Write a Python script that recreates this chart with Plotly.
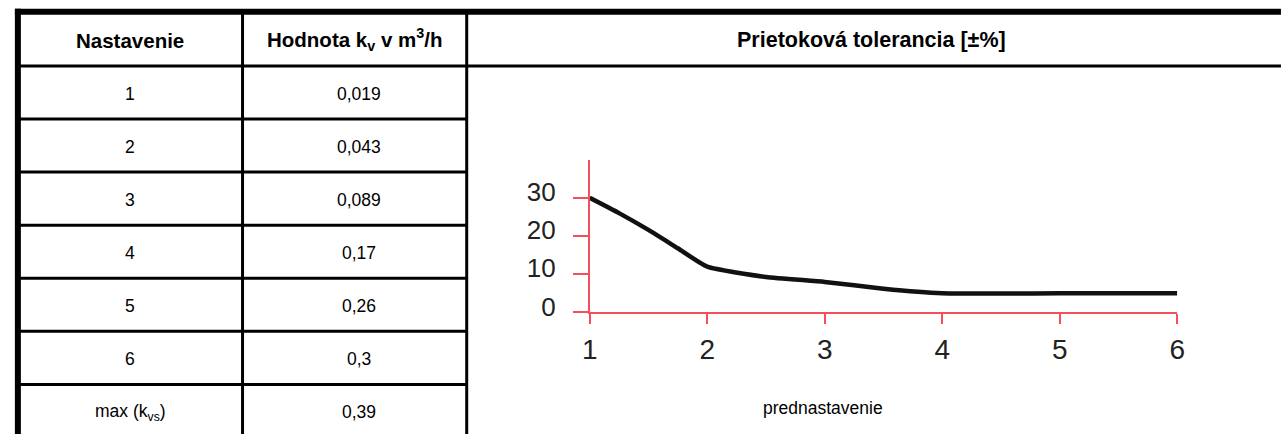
import plotly.graph_objects as go

# ---- data ----
header_cols = ["Nastavenie", "Hodnota k<sub>v</sub> v m<sup>3</sup>/h", "Prietoková tolerancia [±%]"]
settings = ["1", "2", "3", "4", "5", "6", "max (k<sub>vs</sub>)"]
kv_values = ["0,019", "0,043", "0,089", "0,17", "0,26", "0,3", "0,39"]
curve_x = [1, 1.25, 1.5, 1.75, 2, 2.5, 3, 3.5, 4, 5, 6]
curve_y = [30, 26, 21.6, 16.8, 12, 9.3, 8, 6.2, 5, 5, 5]
x_ticks = [1, 2, 3, 4, 5, 6]
y_ticks = [0, 10, 20, 30]
x_title = "prednastavenie"

W, H = 1284, 438
FONT = "Liberation Sans, Arial, Helvetica, sans-serif"
RED = "#f2505c"


def px(x):
    return x / W


def py(y):
    return (H - y) / H


fig = go.Figure()

fig.add_trace(go.Scatter(
    x=curve_x, y=curve_y, mode="lines",
    line=dict(color="#111111", width=4.5, shape="spline", smoothing=0.5),
    hoverinfo="skip", showlegend=False, cliponaxis=False,
))

shapes = []


def line(x0, y0, x1, y1, w):
    shapes.append(dict(type="line", xref="paper", yref="paper",
                       x0=px(x0), y0=py(y0), x1=px(x1), y1=py(y1),
                       line=dict(color="black", width=w)))


# outer border (top + left)
line(7, 12, W + 5, 12, 6)
line(10, 9, 10, H + 5, 6)
# header bottom (full width)
line(10, 67.5, W + 5, 67.5, 3)
# column lines
line(237.5, 12, 237.5, H + 5, 3)
line(464.5, 12, 464.5, H + 5, 3)
# row lines (table part only)
row_lines = [121.5 + 54.2 * i for i in range(6)]
for yl in row_lines:
    line(10, yl, 464.5, yl, 3)

annotations = []


def text(x, y, s, size, bold=False, color="black"):
    annotations.append(dict(xref="paper", yref="paper", x=px(x), y=py(y),
                            text=f"<b>{s}</b>" if bold else s, showarrow=False,
                            xanchor="center", yanchor="middle",
                            font=dict(family=FONT, size=size, color=color)))


text(124, 41, header_cols[0], 20.5, bold=True)
text(351, 40, header_cols[1], 20.5, bold=True)
text(874, 41, header_cols[2], 21.5, bold=True)

row_tops = [67.5] + row_lines
for i, (s, k) in enumerate(zip(settings, kv_values)):
    yc = (row_tops[i] + (row_tops[i + 1] if i + 1 < len(row_tops) else row_tops[i] + 54.2)) / 2 + 1.5
    text(124, yc, s, 17.5)
    text(355, yc, k, 17.5)

text(825, 417, x_title, 17.5)

fig.update_layout(
    margin=dict(l=0, r=0, t=0, b=0),
    paper_bgcolor="white", plot_bgcolor="white",
    shapes=shapes, annotations=annotations,
    xaxis=dict(domain=[px(589), px(1184)], range=[1, 6], tickvals=x_ticks,
               showgrid=False, zeroline=False, showline=True, linecolor=RED, linewidth=1.5,
               ticks="outside", ticklen=10, tickwidth=1.5, tickcolor=RED,
               tickfont=dict(family=FONT, size=28, color="#222"), ticklabelstandoff=1),
    yaxis=dict(domain=[py(319), py(163)], range=[0, 40], tickvals=y_ticks,
               showgrid=False, zeroline=False, showline=True, linecolor=RED, linewidth=1.5,
               ticks="outside", ticklen=15, tickwidth=1.5, tickcolor=RED,
               tickfont=dict(family=FONT, size=26, color="#222"), ticklabelstandoff=12,
               ticklabelshift=-6),
)

fig.write_html("out.html", config={"displayModeBar": False},
               default_width="1284px",
               default_height="438px; position:absolute; left:0; top:0")
